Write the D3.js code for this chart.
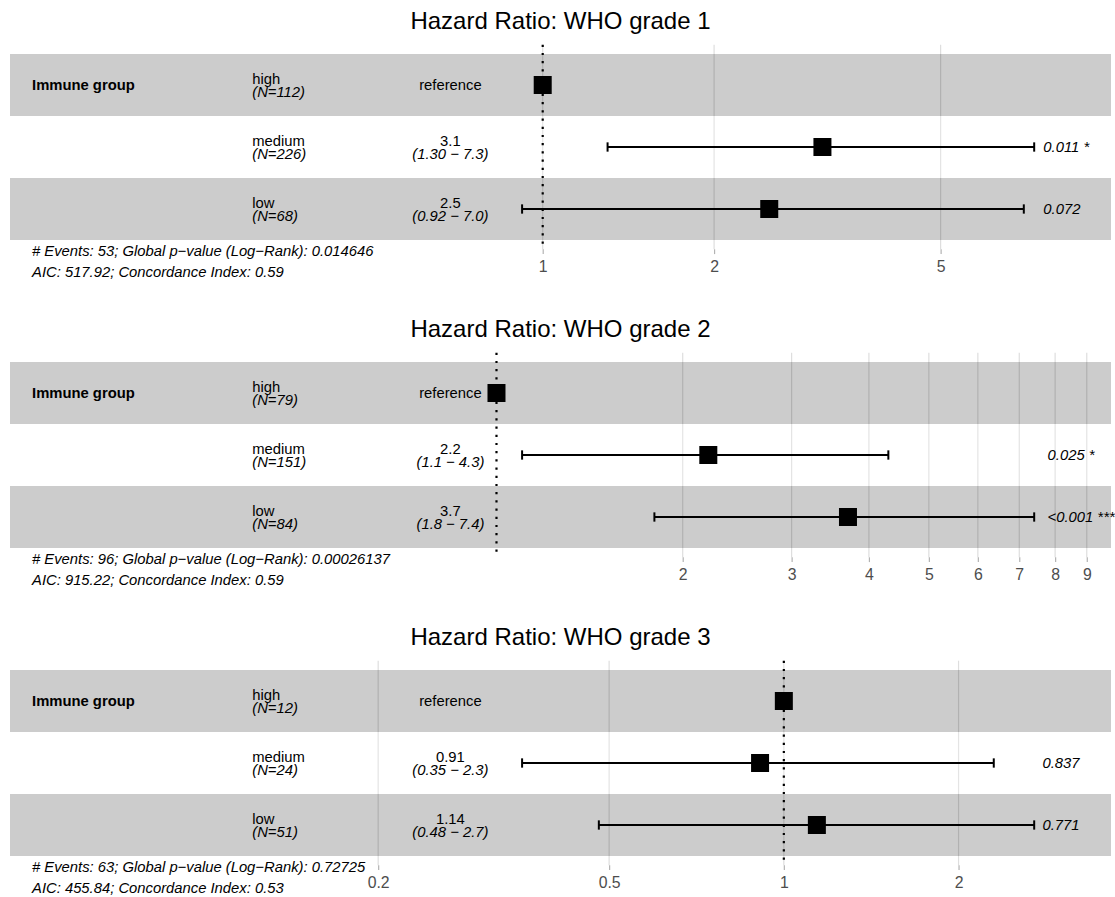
<!DOCTYPE html>
<html>
<head>
<meta charset="utf-8">
<script src="https://cdn.jsdelivr.net/npm/d3@7"></script>
<style>
  body { margin: 0; background: #fff; }
  svg { display: block; }
  text { font-family: "Liberation Sans", Arial, Helvetica, sans-serif; }
</style>
</head>
<body>
<svg id="chart" width="1115" height="897"></svg>
<script>
// Cox model forest plots, one per WHO grade
const panelTitles = ["Hazard Ratio: WHO grade 1", "Hazard Ratio: WHO grade 2", "Hazard Ratio: WHO grade 3"];
const variableName = "Immune group";
const levels = ["high", "medium", "low"];
const levelN = [[112, 226, 68], [79, 151, 84], [12, 24, 51]];
const hazardRatio = [[1, 3.1, 2.5], [1, 2.2, 3.7], [1, 0.91, 1.14]];
const ciLower = [[null, 1.30, 0.92], [null, 1.1, 1.8], [null, 0.354, 0.48]];
const ciUpper = [[null, 7.3, 7.0], [null, 4.3, 7.4], [null, 2.3, 2.7]];
const pValueText = [["", "0.011", "0.072"], ["", "0.025", "<0.001"], ["", "0.837", "0.771"]];
const pStars = [["", "*", ""], ["", "*", "***"], ["", "", ""]];
const nEvents = [53, 96, 63];
const globalP = [0.014646, 0.00026137, 0.72725];
const aicValues = [517.92, 915.22, 455.84];
const concordance = [0.59, 0.59, 0.53];
const axisBreaks = [[1, 2, 5], [2, 3, 4, 5, 6, 7, 8, 9], [0.2, 0.5, 1, 2]];

// layout
const panelStep = 308;
const stripLeft = 10, stripRight = 1111;
const rowsTop = 54, rowH = 62;
const fontFamily = '"Liberation Sans", Arial, Helvetica, sans-serif';
const annotSize = 14.8, axisSize = 15.8, titleSize = 24;
const MINUS = "\u2212";

const svg = d3.select("#chart");
const measureCtx = document.createElement("canvas").getContext("2d");
function textWidth(str, font) { measureCtx.font = font; return measureCtx.measureText(str).width; }

// format a column like R's format(x, digits = 2): common number of decimals
function formatColumn(vals) {
  const present = vals.filter(v => v != null);
  const dec = d3.max(present, v => Math.max(0, 1 - Math.floor(Math.log10(Math.abs(v)))));
  return vals.map(v => v == null ? null : v.toFixed(dec));
}

panelTitles.forEach((title, p) => {
  const g = svg.append("g").attr("transform", `translate(0,${p * panelStep})`);

  const lo = d3.min(ciLower[p]), hi = d3.max(ciUpper[p]);
  const lnLo = Math.log(lo), lnHi = Math.log(hi), span = lnHi - lnLo;
  const rp = [lnLo - span, lnHi + 0.15 * span];
  const rpW = rp[1] - rp[0];
  const x = d3.scaleLog().domain([Math.exp(rp[0]), Math.exp(rp[1])]).range([stripLeft, stripRight]);

  const nRows = levels.length;
  // row positions: first level at the top (position nRows), last at the bottom (1)
  const y = d3.scaleLinear()
    .domain([nRows + 0.5, 0.5])
    .range([rowsTop, rowsTop + nRows * rowH]);
  const pad = 0.15;
  const panelTop = y(nRows + 0.5 + pad), panelBottom = y(0.5 - pad);
  const pos = i => nRows - i;

  const xVar = x(Math.exp(rp[0] + 0.02 * rpW));
  const xLevel = x(Math.exp(rp[0] + 0.22 * rpW));
  const xCi = x(Math.exp(rp[0] + 0.40 * rpW));
  const xStars = x(hi);

  // vertical grid lines at the axis breaks
  g.append("g").selectAll("line").data(axisBreaks[p]).join("line")
    .attr("x1", d => x(d)).attr("x2", d => x(d))
    .attr("y1", panelTop).attr("y2", panelBottom)
    .attr("stroke", "#DEDEDE").attr("stroke-width", 1.2);

  // alternating row bands
  g.append("g").selectAll("rect").data(levels).join("rect")
    .attr("x", x(Math.exp(rp[0]))).attr("width", x(Math.exp(rp[1])) - x(Math.exp(rp[0])))
    .attr("y", (d, i) => y(pos(i) + 0.5)).attr("height", (d, i) => y(pos(i) - 0.5) - y(pos(i) + 0.5))
    .attr("fill", (d, i) => (pos(i) % 2 + 1) === 2 ? "rgba(0,0,0,0.2)" : "rgba(255,255,255,0.2)");

  // x axis
  const axis = d3.axisBottom(x).tickValues(axisBreaks[p]).tickFormat(d => String(d))
    .tickSize(4.8).tickPadding(6.5);
  const ax = g.append("g").attr("transform", `translate(0,${panelBottom})`).call(axis);
  ax.select(".domain").remove();
  ax.selectAll(".tick line").attr("stroke", "#B3B3B3").attr("stroke-width", 1.2);
  ax.selectAll(".tick text").attr("fill", "#4D4D4D").style("font-size", axisSize + "px")
    .style("font-family", fontFamily);

  // reference line at HR = 1
  g.append("line")
    .attr("x1", x(1)).attr("x2", x(1)).attr("y1", panelTop).attr("y2", panelBottom)
    .attr("stroke", "#000").attr("stroke-width", 2.2).attr("stroke-dasharray", "2.2 6");

  // error bars
  const capH = 0.15 * rowH / 2;
  const eb = g.append("g").selectAll("g").data(levels.map((d, i) => i).filter(i => ciLower[p][i] != null)).join("g");
  eb.append("line")
    .attr("x1", i => x(ciLower[p][i])).attr("x2", i => x(ciUpper[p][i]))
    .attr("y1", i => y(pos(i))).attr("y2", i => y(pos(i)))
    .attr("stroke", "#000").attr("stroke-width", 2);
  ["lo", "hi"].forEach(side => {
    eb.append("line")
      .attr("x1", i => x(side === "lo" ? ciLower[p][i] : ciUpper[p][i]))
      .attr("x2", i => x(side === "lo" ? ciLower[p][i] : ciUpper[p][i]))
      .attr("y1", i => y(pos(i)) - capH).attr("y2", i => y(pos(i)) + capH)
      .attr("stroke", "#000").attr("stroke-width", 2);
  });

  // point estimates
  const sq = 18;
  g.append("g").selectAll("rect").data(hazardRatio[p]).join("rect")
    .attr("x", d => x(d) - sq / 2).attr("y", (d, i) => y(pos(i)) - sq / 2)
    .attr("width", sq).attr("height", sq).attr("fill", "#000");

  // annotation columns
  const t = g.append("g").style("font-size", annotSize + "px").attr("fill", "#000");
  t.append("text").attr("x", xVar).attr("y", y(pos(0)) + 5)
    .style("font-weight", "bold").text(variableName);

  levels.forEach((lev, i) => {
    const cy = y(pos(i));
    t.append("text").attr("x", xLevel).attr("y", cy - 1).text(lev);
    t.append("text").attr("x", xLevel).attr("y", cy + 12).style("font-style", "italic")
      .text(`(N=${levelN[p][i]})`);
  });

  const estStr = formatColumn(hazardRatio[p].map((v, i) => ciLower[p][i] == null ? null : v));
  const loStr = formatColumn(ciLower[p]);
  const hiStr = formatColumn(ciUpper[p]);
  levels.forEach((lev, i) => {
    const cy = y(pos(i));
    if (estStr[i] == null) {
      t.append("text").attr("x", xCi).attr("y", cy + 5).attr("text-anchor", "middle").text("reference");
    } else {
      t.append("text").attr("x", xCi).attr("y", cy - 1).attr("text-anchor", "middle").text(estStr[i]);
      t.append("text").attr("x", xCi).attr("y", cy + 12).attr("text-anchor", "middle")
        .style("font-style", "italic").text(`(${loStr[i]} ${MINUS} ${hiStr[i]})`);
    }
  });

  // p-values with significance stars; labels share a padded width, so they start together
  const italicFont = `italic ${annotSize}px ${fontFamily}`;
  const pLabels = levels.map((lev, i) => pValueText[p][i] ? pValueText[p][i] + " " + pStars[p][i] : null);
  const maxLen = d3.max(pLabels, s => s ? s.length : 0);
  const padW = textWidth(pLabels.find(s => s && s.length === maxLen) || "", italicFont);
  levels.forEach((lev, i) => {
    if (!pLabels[i]) return;
    t.append("text").attr("x", xStars + 0.2 * padW).attr("y", y(pos(i)) + 5)
      .style("font-style", "italic").text(pLabels[i].trimEnd());
  });

  // model summary
  const foot = t.append("text").attr("x", xVar).style("font-style", "italic");
  const footY = y(0.5) + 15.5;
  foot.append("tspan").attr("x", xVar).attr("y", footY)
    .text(`# Events: ${nEvents[p]}; Global p${MINUS}value (Log${MINUS}Rank): ${globalP[p]}`);
  foot.append("tspan").attr("x", xVar).attr("y", footY + 21.5)
    .text(`AIC: ${aicValues[p]}; Concordance Index: ${concordance[p]}`);

  // title centred over the panel
  const panelL = stripLeft - 0.02 * (stripRight - stripLeft);
  const panelR = stripRight + 0.02 * (stripRight - stripLeft);
  g.append("text").attr("x", (panelL + panelR) / 2).attr("y", 29)
    .attr("text-anchor", "middle").style("font-size", titleSize + "px").attr("fill", "#000")
    .text(title);
});
</script>
</body>
</html>
